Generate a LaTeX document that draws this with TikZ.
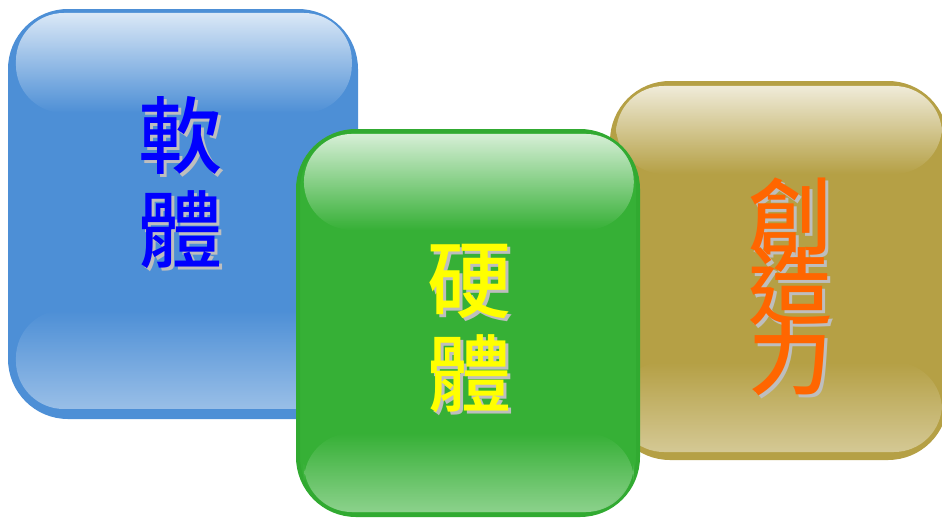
\documentclass[tikz,border=0pt]{standalone}
\usepackage{fontspec}
\usetikzlibrary{fadings}
\newfontfamily\cjk{Noto Sans CJK TC Medium}
\definecolor{blueBase}{HTML}{4D8FD6}
\definecolor{greenBase}{HTML}{36B036}
\definecolor{greenLine}{HTML}{31AA31}
\definecolor{goldBase}{HTML}{B5A045}
\definecolor{shadowgray}{HTML}{BEBEBE}
\definecolor{txtBlue}{HTML}{0000FF}
\definecolor{txtYellow}{HTML}{FFFF00}
\definecolor{txtOrange}{HTML}{FF6600}
\tikzfading[name=hltop, top color=transparent!20, middle color=transparent!42, bottom color=transparent!100]
\tikzfading[name=hlbot, top color=transparent!100, middle color=transparent!80, bottom color=transparent!57]
\newcommand\shch[2]{\rlap{\kern3pt\lower3pt\hbox{\color{shadowgray}#2}}\hbox{\color{#1}#2}}
\lineskiplimit=-200pt
\begin{document}
\begin{tikzpicture}[x=1pt,y=-1pt,
  outerbox/.style={line width=4pt, rounded corners=58pt},
  hl/.style={rounded corners=48pt, fill=white},
  hltopf/.style={hl, path fading=hltop},
  hlbotf/.style={hl, path fading=hlbot},
  twoline/.style={font=\cjk\fontsize{84pt}{94pt}\selectfont, inner sep=0pt, align=center},
  threeline/.style={font=\cjk\fontsize{84pt}{70pt}\selectfont, inner sep=0pt, align=center}]
\useasboundingbox (0,0) rectangle (942,517);
\clip (0,0) rectangle (942,517);
% blue box
\draw[outerbox, draw=blueBase, fill=blueBase] (10,11) rectangle (356,417);
\fill[hltopf] (16,13) rectangle (352,113);
\fill[hlbotf] (16,310) rectangle (352,409);
% gold box
\draw[outerbox, draw=goldBase, fill=goldBase] (612,83) rectangle (946,458);
\fill[hltopf] (616,86) rectangle (942,174);
\fill[hlbotf] (616,362) rectangle (942,452);
% green box
\draw[outerbox, draw=greenLine, fill=greenBase] (298,131) rectangle (638,515);
\fill[hltopf] (304,134) rectangle (634,230);
\fill[hlbotf] (304,433) rectangle (634,512);
% texts
\node[twoline] (soft) at (180,184) {\shch{txtBlue}{軟}\\\shch{txtBlue}{體}};
\node[twoline] (hard) at (469,330) {\shch{txtYellow}{硬}\\\shch{txtYellow}{體}};
\node[threeline] (crea) at (790,288) {\shch{txtOrange}{創}\\\shch{txtOrange}{造}\\\shch{txtOrange}{力}};
\end{tikzpicture}
\end{document}
